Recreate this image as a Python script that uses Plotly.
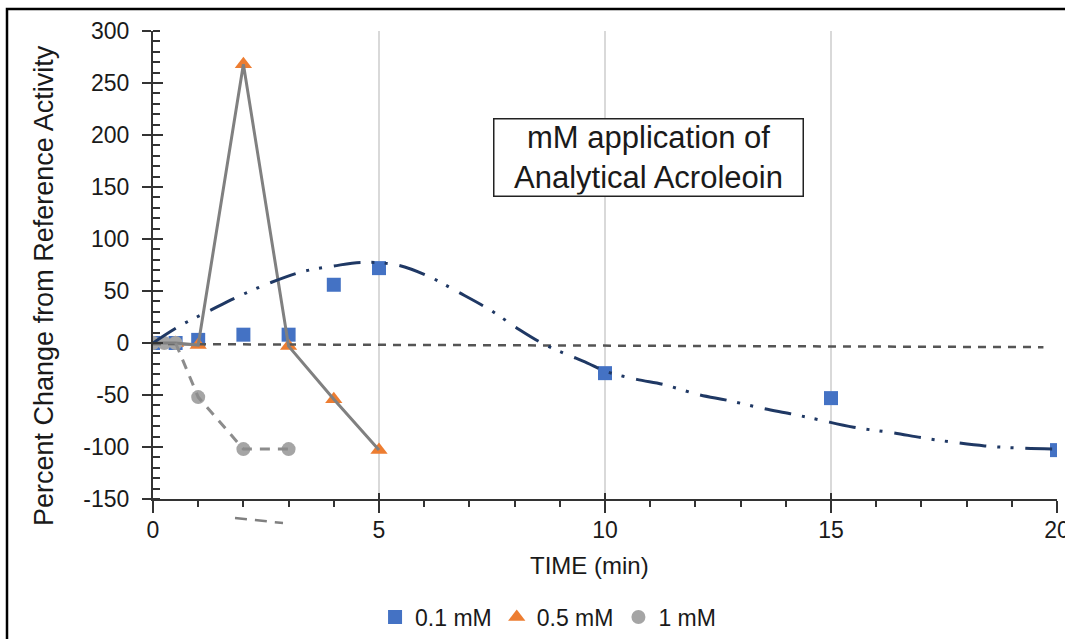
import plotly.graph_objects as go

# ---- data ----
x_01 = [0, 0.5, 1, 2, 3, 4, 5, 10, 15, 20]
y_01 = [0, 0, 3, 8, 8, 56, 72, -29, -53, -103]

x_05 = [0, 0.5, 1, 2, 3, 4, 5]
y_05 = [0, 0, -2, 268, -3, -54, -103]

x_1 = [0, 0.25, 0.5, 1, 2, 3]
y_1 = [0, 0, 0, -52, -102, -102]

# fitted curve for 0.1 mM (dash-dot)
curve_x = [0, 0.6, 1.25, 1.85, 2.6, 3.3, 4.0, 4.6, 5.4, 6.1, 6.75, 7.45, 8.1, 8.6,
           9.1, 9.6, 10.0, 10.7, 11.3, 12.1, 12.7, 13.5, 14.1, 14.7, 15.5, 16.4,
           17.0, 17.8, 18.4, 19.3, 20.0]
curve_y = [0, 16.6, 31, 44, 58, 68.5, 74, 77.5, 75, 64, 49, 32, 13, 0,
           -10, -19, -27, -35, -40, -50, -55, -63, -68, -73.5, -81, -86.5,
           -91, -96, -99, -101.3, -102]

# near-zero linear trend (dashed)
trend_x = [0, 19.7]
trend_y = [-1, -4]

legend_names = ["0.1 mM", "0.5 mM", "1 mM"]
x_ticks = [0, 5, 10, 15, 20]
x_tick_text = ["0", "5", "10", "15", "20"]
y_ticks = [-150, -100, -50, 0, 50, 100, 150, 200, 250, 300]
y_tick_text = ["-150", "-100", "-50", "0", "50", "100", "150", "200", "250", "300"]

BLUE = "#4472C4"
ORANGE = "#ED7D31"
GRAY = "#A5A5A5"
NAVY = "#1F3864"
TXT = "#1a1a1a"
AX = "#333333"
FONT = "Liberation Sans, Arial, sans-serif"

fig = go.Figure()

# markers (legend)
fig.add_trace(go.Scatter(x=x_01, y=y_01, mode="markers", name=legend_names[0],
                         marker=dict(symbol="square", size=14, color=BLUE)))
fig.add_trace(go.Scatter(x=x_05, y=y_05, mode="markers", name=legend_names[1],
                         marker=dict(symbol="triangle-up", size=15, color=ORANGE)))
fig.add_trace(go.Scatter(x=x_1, y=y_1, mode="markers", name=legend_names[2],
                         marker=dict(symbol="circle", size=14, color=GRAY)))

# lines on top
fig.add_trace(go.Scatter(x=trend_x, y=trend_y, mode="lines", showlegend=False,
                         line=dict(color="#555555", width=2.5, dash="8px,7px")))
fig.add_trace(go.Scatter(x=x_05, y=y_05, mode="lines", showlegend=False,
                         line=dict(color="#808080", width=3)))
fig.add_trace(go.Scatter(x=x_1[2:], y=y_1[2:], mode="lines", showlegend=False,
                         line=dict(color="#8c8c8c", width=3, dash="10px,8px")))
fig.add_trace(go.Scatter(x=curve_x, y=curve_y, mode="lines", showlegend=False,
                         line=dict(color=NAVY, width=3, shape="spline",
                                   dash="27px,11px,3px,10px,3px,12px")))

# invisible trace for overlay axes (inner half of crossing ticks)
fig.add_trace(go.Scatter(x=[0], y=[0], xaxis="x2", yaxis="y2", mode="markers",
                         marker=dict(opacity=0), showlegend=False, hoverinfo="skip"))

W, H = 1065, 639
L, R, T, B = 153, 8, 31, 140
pw, ph = W - L - R, H - T - B

def px(xp):
    return (xp - L) / pw

def py(yp):
    return (H - B - yp) / ph

XR = [0, 20]
YR = [-150, 300]

fig.update_layout(
    width=W, height=H,
    margin=dict(l=L, r=R, t=T, b=B, autoexpand=False),
    paper_bgcolor="white", plot_bgcolor="white",
    font=dict(family=FONT, color=TXT, size=23),
    showlegend=True,
    legend=dict(orientation="h", x=0.437, xanchor="center", y=py(617), yanchor="middle",
                font=dict(family=FONT, size=23, color=TXT), itemwidth=30, tracegroupgap=0,
                bgcolor="rgba(0,0,0,0)"),
    xaxis=dict(range=XR, tickvals=x_ticks, ticktext=x_tick_text, ticks="outside", ticklen=12,
               tickwidth=2, tickcolor=AX, showline=True, linecolor=AX, linewidth=2,
               showgrid=True, gridcolor="#d9d9d9", gridwidth=1.5, zeroline=False,
               tickfont=dict(family=FONT, size=23, color=TXT), ticklabelstandoff=-3,
               ticklabeloverflow="allow", automargin=False,
               minor=dict(dtick=1, ticks="outside", ticklen=6, tickwidth=2, tickcolor=AX,
                          showgrid=False)),
    yaxis=dict(range=YR, tickvals=y_ticks, ticktext=y_tick_text, ticks="outside", ticklen=9,
               tickwidth=2, tickcolor=AX, showline=True, linecolor=AX, linewidth=2,
               showgrid=False, zeroline=False,
               tickfont=dict(family=FONT, size=23, color=TXT), ticklabelstandoff=8,
               ticklabeloverflow="allow", automargin=False,
               minor=dict(dtick=10, ticks="inside", ticklen=7, tickwidth=1.5, tickcolor=AX,
                          showgrid=False)),
    xaxis2=dict(range=XR, overlaying="x", anchor="y", tickvals=x_ticks, ticks="inside",
                ticklen=6, tickwidth=2, tickcolor=AX, showticklabels=False, showline=False,
                showgrid=False, zeroline=False, automargin=False),
    yaxis2=dict(range=YR, overlaying="y", anchor="x", side="left", tickvals=y_ticks,
                ticks="inside", ticklen=10, tickwidth=2, tickcolor=AX, showticklabels=False,
                showline=False, showgrid=False, zeroline=False, automargin=False),
)

# axis titles as annotations to match their offsets
fig.add_annotation(text="Percent Change from Reference Activity", xref="paper", yref="paper",
                   x=px(44), y=py(286), textangle=-90, showarrow=False,
                   font=dict(family=FONT, size=27, color=TXT), xanchor="center", yanchor="middle")
fig.add_annotation(text="TIME (min)", xref="paper", yref="paper",
                   x=px(589), y=py(565), showarrow=False,
                   font=dict(family=FONT, size=24, color=TXT), xanchor="center", yanchor="middle")

# boxed label
fig.add_annotation(text="mM application of<br>Analytical Acroleoin", xref="paper", yref="paper",
                   x=px(648), y=py(157), showarrow=False, align="center",
                   font=dict(family=FONT, size=31, color=TXT), xanchor="center", yanchor="middle",
                   width=306, height=74,
                   bordercolor="#222222", borderwidth=1.5, borderpad=1, bgcolor="white")

# stray dashed stub below the axis
fig.add_shape(type="line", xref="paper", yref="paper",
              x0=px(235), y0=py(518), x1=px(283), y1=py(523),
              line=dict(color="#808080", width=2.5, dash="12px,8px"))

# outer frame
fig.add_shape(type="rect", xref="paper", yref="paper",
              x0=px(7), y0=py(700), x1=px(1100), y1=py(9),
              line=dict(color="black", width=2.5), fillcolor="rgba(0,0,0,0)", layer="below")

fig.write_html("out.html")
